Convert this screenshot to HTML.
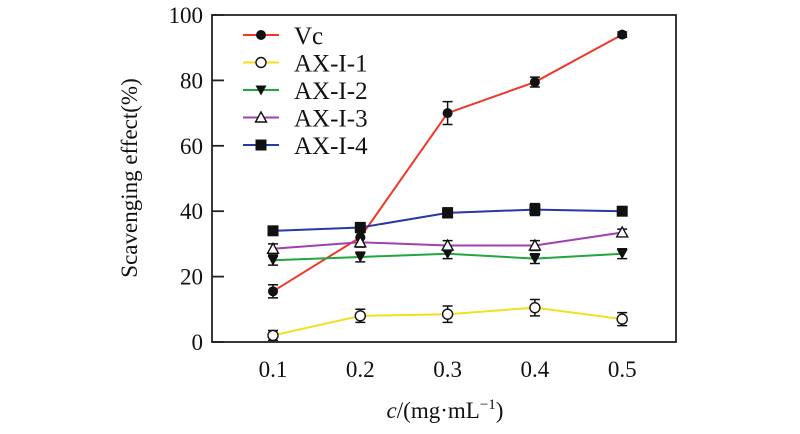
<!DOCTYPE html>
<html><head><meta charset="utf-8"><style>
body{margin:0;background:#fff;}
svg{display:block;font-family:"Liberation Serif",serif;}
</style></head><body>
<svg id="chart" width="800" height="434">
<rect x="212" y="15" width="464" height="327" fill="none" stroke="#222" stroke-width="1.8"/>
<g id="axes"></g><g id="series"></g><g id="legend"></g>
<text transform="translate(137,178) rotate(-90)" text-anchor="middle" font-size="23" fill="#111">Scavenging effect(%)</text>
<text x="445" y="418" text-anchor="middle" font-size="23" fill="#111"><tspan font-style="italic">c</tspan>/(mg·mL<tspan font-size="15" dy="-9">−1</tspan><tspan dy="9">)</tspan></text>
</svg>
<script>
const categories=[0.1,0.2,0.3,0.4,0.5];
const xTickLabels=["0.1","0.2","0.3","0.4","0.5"];
const yTicks=[0,20,40,60,80,100];
const seriesNames=["Vc","AX-I-1","AX-I-2","AX-I-3","AX-I-4"];
const vc=[15.5,32,70,79.5,94];
const ax1=[2,8,8.5,10.5,7];
const ax2=[25,26,27,25.5,27];
const ax3=[28.5,30.5,29.5,29.5,33.5];
const ax4=[34,35,39.5,40.5,40];
const vcErr=[2,1.5,3.5,1.5,0.8];
const ax1Err=[1.5,2,2.5,2.5,2];
const ax2Err=[1.5,1.5,1.5,1.5,1.5];
const ax3Err=[1.5,1.5,1.5,1.5,1];
const ax4Err=[1.2,1.5,1.5,1.8,1];
const NS="http://www.w3.org/2000/svg";
const X=v=>273+(v-0.1)*873;
const Y=v=>342-v*3.27;
function mk(tag,attrs,parent,text){const e=document.createElementNS(NS,tag);for(const k in attrs)e.setAttribute(k,attrs[k]);if(text!==undefined)e.textContent=text;parent.appendChild(e);return e;}
const axes=document.getElementById('axes');
yTicks.forEach(t=>{
 const l=mk('line',{x1:212,x2:224,y1:Y(t),y2:Y(t),stroke:'#222','stroke-width':1.8},axes);
 
 
 const tx=mk('text',{x:203,y:Y(t)+8,'text-anchor':'end','font-size':23,fill:'#111'},axes,String(t));
 
 
});
categories.forEach((c,i)=>{
 const tx=mk('text',{x:X(c),y:377,'text-anchor':'middle','font-size':23,fill:'#111'},axes,xTickLabels[i]);
 
 
});
const defs=[{v:vc,e:vcErr,c:'#f0382a',m:'circle-f'},{v:ax1,e:ax1Err,c:'#f2e020',m:'circle-o'},{v:ax2,e:ax2Err,c:'#22a640',m:'tri-down'},{v:ax3,e:ax3Err,c:'#a040b0',m:'tri-up'},{v:ax4,e:ax4Err,c:'#2838a8',m:'square'}];
function marker(type,x,y,g){
 let e;
 if(type==='circle-f')e=mk('circle',{cx:x,cy:y,r:5,fill:'#111'},g);
 else if(type==='circle-o')e=mk('circle',{cx:x,cy:y,r:5,fill:'#fff',stroke:'#111','stroke-width':1.4},g);
 else if(type==='tri-down')e=mk('polygon',{points:`${x-5.5},${y-4.5} ${x+5.5},${y-4.5} ${x},${y+5.5}`,fill:'#111'},g);
 else if(type==='tri-up')e=mk('polygon',{points:`${x-5.5},${y+4.5} ${x+5.5},${y+4.5} ${x},${y-5.5}`,fill:'#fff',stroke:'#111','stroke-width':1.4},g);
 else e=mk('rect',{x:x-5.5,y:y-5.5,width:11,height:11,fill:'#111'},g);
 
 
}
const sg=document.getElementById('series');
defs.forEach((d,si)=>{
 const g=mk('g',{},sg);
 
 
 const pl=mk('polyline',{points:categories.map((c,i)=>X(c)+','+Y(d.v[i])).join(' '),fill:'none',stroke:d.c,'stroke-width':2},g);
 
 
 categories.forEach((c,i)=>{
  const x=X(c),y1=Y(d.v[i]-d.e[i]),y2=Y(d.v[i]+d.e[i]);
  const eb=mk('path',{d:`M${x},${y1}V${y2}M${x-5},${y1}H${x+5}M${x-5},${y2}H${x+5}`,stroke:'#111','stroke-width':1.5,fill:'none'},g);
  
  
  marker(d.m,x,Y(d.v[i]),g);
 });
});
const lg=document.getElementById('legend');
defs.forEach((d,i)=>{
 const y=35+i*27.5;
 const g=mk('g',{},lg);
 
 
 mk('line',{x1:243,x2:279,y1:y,y2:y,stroke:d.c,'stroke-width':2},g);
 marker(d.m,261,y,g);
 mk('text',{x:294,y:y+9,'font-size':25,fill:'#111'},g,seriesNames[i]);
});
</script>
</body></html>
